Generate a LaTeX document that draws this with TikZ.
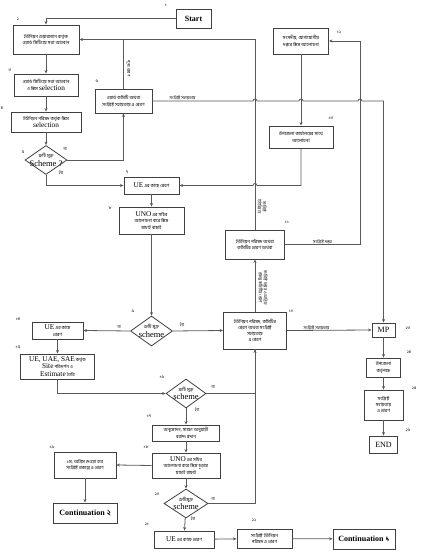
\documentclass[tikz,border=0pt]{standalone}
\usepackage{fontspec}
\setmainfont{Liberation Serif}
\newfontfamily\bn[Script=Bengali]{Hind Siliguri}
\usetikzlibrary{arrows.meta, shapes.geometric, calc}
\newcommand{\lat}[1]{{\rmfamily\fontsize{7.3}{7}\selectfont #1}}
\newcommand{\sch}[1]{{\rmfamily\fontsize{8.5}{8}\selectfont #1}}

\begin{document}
\begin{tikzpicture}[x=1pt, y=-1pt,
    box/.style={rectangle, draw=black!75, line width=0.9pt, align=center, inner sep=1pt, font=\bn\fontsize{4.6}{6.6}\selectfont},
    dia/.style={diamond, draw=black!75, line width=0.8pt, inner sep=0pt},
    dtext/.style={align=center, inner sep=0pt, font=\bn\fontsize{4.6}{8.6}\selectfont},
    hd/.style={box, font=\rmfamily\bfseries\fontsize{8}{9}\selectfont},
    num/.style={font=\bn\fontsize{4.2}{5}\selectfont, inner sep=0pt},
    side/.style={font=\bn\fontsize{4.2}{5}\selectfont, inner sep=0.5pt, align=center},
    line/.style={draw=black!65, line width=0.8pt},
    arrow/.style={line, -{Stealth[length=3.5pt, width=3pt]}}
]
    \useasboundingbox (0,0) rectangle (422,556);

    % top left column
    \node[hd, minimum width=35, minimum height=19] (start) at (193.5,18.5) {Start};
    \node[box, minimum width=66, minimum height=29] (box2) at (46,39.5) {ইউনিয়ন চেয়ারম্যান কর্তৃক\\ওয়ার্ড মিটিংয়ে সভা আহবান};
    \node[box, minimum width=64, minimum height=22] (box3) at (46,85) {ওয়ার্ড মিটিংয়ে সভা আহবান\\ও স্কিম \lat{selection}};
    \node[box, minimum width=70, minimum height=20] (box4) at (46,122) {ইউনিয়ন পরিষদ কর্তৃক স্কিম\\\lat{selection}};
    \node[dia, minimum width=42, minimum height=29] (d5) at (46,160) {};
    \node[dtext] (t5) at (d5) {ত্রুটি মুক্ত\\\sch{Scheme ?}};
    \node[box, minimum width=57, minimum height=24] (box6) at (123.5,101) {ওয়ার্ড কমিটি অথবা\\সংশ্লিষ্ট সহায়তায় এ প্রেরণ};

    % middle column
    \node[box, minimum width=55, minimum height=17] (box7) at (151.5,185.5) {\lat{UE} এর কাছে প্রেরণ};
    \node[box, minimum width=65, minimum height=27] (box8) at (151.5,220.5) {\lat{UNO} এর সচিব\\আলোচনা করে স্কিম\\যাচাই বাছাই};
    \node[dia, minimum width=42, minimum height=30] (d9) at (151.5,331) {};
    \node[dtext] (t9) at (d9) {ত্রুটি মুক্ত\\\sch{scheme}};
    \node[box, minimum width=63, minimum height=37, font=\bn\fontsize{4.6}{6}\selectfont] (box10) at (255,330.5) {ইউনিয়ন পরিষদ, কমিটির\\প্রেরণ অথবা সংশ্লিষ্ট\\সহায়তায়\\এ প্রেরণ};
    \node[box, minimum width=59, minimum height=29] (box11) at (255,244.5) {ইউনিয়ন পরিষদ অথবা\\কমিটির প্রেরণ অথবা};
    \node[box, minimum width=55, minimum height=26] (box12) at (301,41) {সংসদীয়, যোগাযোগীয়\\দপ্তরে স্কিম আলোচনা};
    \node[box, minimum width=64, minimum height=22] (box13) at (301,137) {উপজেলা কার্যালয়ের সাথে\\আলোচনা};
    \coordinate (turn) at (360,41);

    % right column
    \node[box, font=\rmfamily\fontsize{8}{9}\selectfont, minimum width=23, minimum height=14] (mp) at (383.5,330) {MP};
    \node[box, minimum width=34, minimum height=19] (box24) at (383.5,367.5) {উপজেলা\\কর্তৃপক্ষ};
    \node[box, minimum width=39, minimum height=30, font=\bn\fontsize{4.6}{6}\selectfont] (box25) at (383.5,405) {সংশ্লিষ্ট\\সহায়তায়\\এ প্রেরণ};
    \node[box, font=\rmfamily\fontsize{8}{9}\selectfont, minimum width=28, minimum height=17] (end) at (383.5,444.5) {END};

    % lower part
    \node[box, minimum width=51, minimum height=17] (box14) at (57.5,330.5) {\lat{UE} এর কাছে\\প্রেরণ};
    \node[box, minimum width=74, minimum height=25, font=\bn\fontsize{4.6}{7.2}\selectfont] (box15) at (57.5,366.5) {\lat{UE, UAE, SAE} কর্তৃক\\\lat{Site} পরিদর্শন ও\\\lat{Estimate} তৈরি};
    \node[dia, minimum width=40, minimum height=29] (d16) at (186,393.5) {};
    \node[dtext] (t16) at (d16) {ত্রুটি মুক্ত\\\sch{scheme}};
    \node[box, minimum width=67, minimum height=16] (box17) at (186,433) {অনুমোদন, সাক্ষ্য অনুযায়ী\\বরাদ্দ প্রদান};
    \node[box, minimum width=68, minimum height=25, font=\bn\fontsize{4.6}{6.4}\selectfont] (box18) at (186,465.5) {\lat{UNO} এর সচিব\\আলোচনা করে স্কিম চূড়ান্ত\\যাচাই বাছাই};
    \node[box, minimum width=62, minimum height=26] (box19) at (85,465) {১ম, অগ্রিম দেওয়া হবে\\সংশ্লিষ্ট প্রকল্পে এ প্রেরণ};
    \node[hd, minimum width=64, minimum height=20] (cont2) at (85,513) {Continuation {\bn ২}};
    \node[dia, minimum width=44, minimum height=29] (d20) at (186,503.5) {};
    \node[dtext] (t20) at (d20) {ত্রুটিমুক্ত\\\sch{scheme}};
    \node[box, minimum width=60, minimum height=17] (box21) at (184,539.5) {\lat{UE} এর কাছে প্রেরণ};
    \node[box, minimum width=55, minimum height=19] (box22) at (264.5,538.5) {সংশ্লিষ্ট ইউনিয়ন\\পরিষদ এ প্রেরণ};
    \node[hd, minimum width=62, minimum height=20] (cont1) at (364,539) {Continuation {\bn ১}};

    % step numbers
    \node[num] (n1) at (166,5) {১};
    \node[num] (n2) at (18,19) {২};
    \node[num] (n3) at (10,70) {৩};
    \node[num] (n4) at (2,108) {৪};
    \node[num] (n5) at (23,152) {৫};
    \node[num] (n6) at (97,81) {৬};
    \node[num] (n7) at (127,172) {৭};
    \node[num] (n8) at (110,208) {৮};
    \node[num] (n9) at (133,311) {৯};
    \node[num] (n10) at (291,311) {১০};
    \node[num] (n11) at (287,222) {১১};
    \node[num] (n12) at (339,32) {১২};
    \node[num] (n13) at (331,118) {১৩};
    \node[num] (n14) at (18,319) {১৪};
    \node[num] (n15) at (18,347) {১৫};
    \node[num] (n16) at (162,377) {১৬};
    \node[num] (n17) at (149,416) {১৭};
    \node[num] (n18) at (146,447) {১৮};
    \node[num] (n19) at (52,447) {১৯};
    \node[num] (n20) at (157,494) {২০};
    \node[num] (n21) at (147,524) {২১};
    \node[num] (n22) at (254,520) {২২};
    \node[num] (n23) at (408,328) {২৩};
    \node[num] (n24) at (409,352) {২৪};
    \node[num] (n25) at (414,388) {২৫};
    \node[num] (n26) at (408,430) {২৬};

    % yes / no
    \node[side] (no5) at (65,149) {না};
    \node[side] (yes5) at (61,173) {হ্যাঁ};
    \node[side] (no9) at (119,327) {না};
    \node[side] (yes9) at (182,325) {হ্যাঁ};
    \node[side] (no16) at (213,387) {না};
    \node[side] (yes16) at (197,410) {হ্যাঁ};
    \node[side] (no20) at (213,499) {না};
    \node[side] (yes20) at (193,519) {হ্যাঁ};

    % connectors
    \draw[arrow] (start.west) -| (box2.north);
    \draw[arrow] (box2) -- (box3);
    \draw[arrow] (box3) -- (box4);
    \draw[arrow] (box4) -- (d5);
    \draw[arrow] (d5.east) -| (box6.south);
    \draw[arrow] (d5.south) |- (box7.west);
    \draw[line] (box6.north) -- (box6.north |- box2.east);
    \node[side, rotate=-90] (back6) at ($(box6.north)+(5,-20)$) {পুনঃ প্রেরণ};
    \draw[arrow] (box11.north) |- (box2.east);
    \node[side, rotate=-90] (lab11) at ($(box11.north)+(7,-23)$) {সংশ্লিষ্ট\\ইউনিয়নে};
    \draw[arrow] (box6.east) -- node[side, above, pos=0.3] {সংশ্লিষ্ট সহায়তায়}
        ($(box11.north |- box6.east)+(-2,0)$) arc[start angle=180, end angle=0, radius=2pt]
        -- ($(box12.south |- box6.east)+(-2,0)$) arc[start angle=180, end angle=0, radius=2pt]
        -- ($(turn |- box6.east)+(-2,0)$) arc[start angle=180, end angle=0, radius=2pt]
        -| (mp.north);
    \draw[arrow] (box11.east) -| node[side, above, pos=0.25] {সংশ্লিষ্ট দপ্তর} (turn) -- (box12.east);
    \draw[arrow] (box12.south) -- (box13.north);
    \draw[arrow] (box13.south) -- (box13.south |- box7.east)
        -- ($(box11.north |- box7.east)+(2,0)$) arc[start angle=0, end angle=180, radius=2pt]
        -- (box7.east);
    \draw[arrow] (box7) -- (box8);
    \draw[arrow] (box8) -- (d9);
    \draw[arrow] (d9.west) -- (box14.east);
    \draw[arrow] (d9.east) -- (box10.west);
    \draw[arrow] (box10.north) -- (box11.south);
    \node[side, rotate=-90] (lab10) at ($(box10.north)+(8,-24)$) {সংশ্লিষ্ট দপ্তরে ও অগ্রিম\\প্রকল্প কমিটির প্রেরণ};
    \draw[arrow] (box10.east) -- node[side, above, pos=0.35] {সংশ্লিষ্ট সহায়তায়} (mp.west);
    \draw[arrow] (mp) -- (box24);
    \draw[arrow] (box24) -- (box25);
    \draw[arrow] (box25) -- (end);
    \draw[arrow] (box14) -- (box15);
    \draw[arrow] (box15.south) |- (d16.west);
    \draw[arrow] (d16.east) -| (box10.south);
    \draw[arrow] (d16) -- (box17);
    \draw[arrow] (box17) -- (box18);
    \draw[arrow] (box18.west) -- (box19.east);
    \draw[arrow] (box19) -- (cont2);
    \draw[arrow] (box18) -- (d20);
    \draw[line] (d20.east) -| (box10.south);
    \draw[arrow] (d20) -- (box21);
    \draw[arrow] (box21) -- (box22);
    \draw[arrow] (box22) -- (cont1);
\end{tikzpicture}
\end{document}
